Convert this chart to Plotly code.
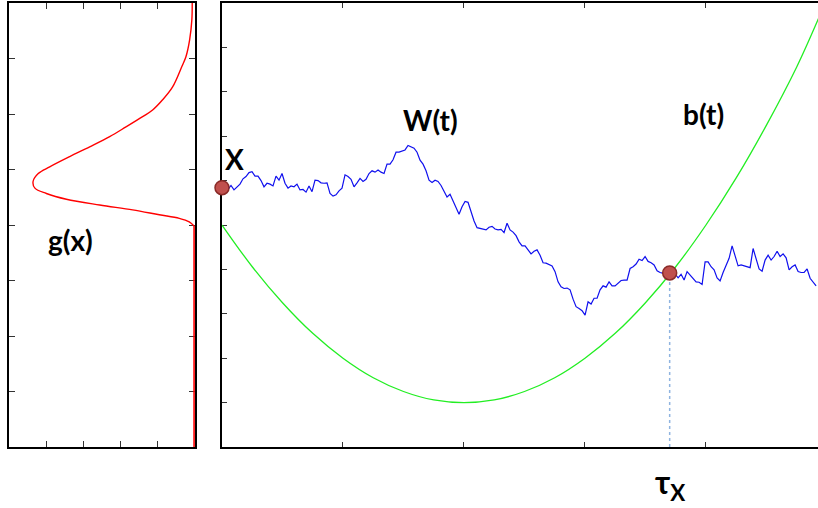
import plotly.graph_objects as go

# ---------------- data ----------------
# boundary b(t), read at t = 0 .. 4.93
b_t = [0, 0.25, 0.5, 0.75, 1.0, 1.25, 1.5, 1.75, 2.0, 2.25, 2.5, 2.75, 3.0,
       3.25, 3.5, 3.75, 4.0, 4.25, 4.5, 4.75, 4.93]
b_val = [5.0, 4.06, 3.25, 2.56, 2.0, 1.56, 1.25, 1.06, 1.0, 1.06, 1.25, 1.56, 2.0,
         2.56, 3.25, 4.06, 5.0, 6.06, 7.25, 8.56, 9.65]

# Brownian path W(t), sampled every W_STEP in t
W_STEP = 0.0248
W_val = [
    5.84, 5.85, 5.80, 5.89, 5.79, 5.86, 5.92, 6.04, 6.09, 6.18, 6.20, 6.10, 6.10,
    6.00, 5.86, 5.94, 5.92, 5.88, 6.10, 6.01, 6.16, 5.94, 5.83, 5.88, 5.86, 5.92,
    5.79, 5.80, 5.74, 5.88, 5.75, 6.01, 6.00, 5.95, 5.94, 5.95, 5.71, 5.65, 5.68,
    5.77, 5.83, 6.13, 6.09, 6.03, 5.86, 5.95, 6.05, 5.98, 6.03, 6.16, 6.22, 6.19,
    6.24,
    6.19, 6.16, 6.37, 6.37, 6.47, 6.64, 6.64, 6.67, 6.69, 6.79, 6.76, 6.73, 6.64,
    6.46, 6.37, 6.22, 6.01, 5.96, 6.01, 5.98, 5.89, 5.74, 5.63, 5.69, 5.54, 5.36,
    5.24, 5.41, 5.53, 5.51, 5.30, 5.09, 4.94, 4.92, 4.90, 4.89, 4.95, 4.97, 4.91,
    4.89, 4.90, 4.83, 5.04, 4.89, 4.84, 4.76, 4.62, 4.53,
    4.53, 4.44, 4.35, 4.41, 4.44, 4.32, 4.15, 4.14, 4.11, 4.08, 3.95, 3.72, 3.61,
    3.57, 3.58, 3.54, 3.33, 3.16, 3.12, 3.07, 2.97, 3.27, 3.22, 3.35, 3.35, 3.54,
    3.63, 3.60, 3.72, 3.63, 3.63, 3.70, 3.75, 3.76, 3.76, 4.02, 4.06, 4.12, 4.23,
    4.20, 4.29, 4.18, 4.15, 4.10, 3.97, 3.93, 3.91, 4.02, 4.05, 3.99, 3.90,
    3.81, 3.89, 3.76, 3.95, 3.87, 3.81, 3.72, 3.71, 3.66, 4.17, 4.17, 4.06, 3.99,
    3.81, 3.74, 3.93, 4.10, 4.25, 4.53, 4.29, 4.08, 4.10, 4.08, 4.07, 4.04, 4.47,
    4.25, 4.01, 3.96, 4.21, 4.32, 4.21, 4.29, 4.41, 4.29, 4.35, 4.26, 3.99, 4.06,
    4.10, 3.95, 3.93, 3.93, 4.01, 3.80, 3.71, 3.63,
]
W_t = [i * W_STEP for i in range(len(W_val))]

# density g(x) of the starting point (left panel, drawn sideways)
g_x = [10.0, 9.62, 9.17, 8.79, 8.57, 8.11, 7.82, 7.59, 7.44, 7.21, 6.99, 6.76,
       6.54, 6.31, 6.16, 5.98, 5.83, 5.71, 5.58, 5.45, 5.34, 5.23, 5.15, 5.07,
       4.98]
g_val = [0.05, 0.06, 0.12, 0.22, 0.33, 0.58, 0.85, 1.12, 1.39, 1.84, 2.28, 2.82,
         3.36, 3.90, 4.21, 4.35, 4.30, 3.99, 3.45, 2.55, 1.66, 0.94, 0.40, 0.13,
         0.0]
# zero part of the density (below the support)
g0_x = [4.98, 0.0]
g0_val = [0.0, 0.0]

X0 = 5.84          # starting value X
TAU = 3.70         # first hitting time tau_X
W_TAU = 3.92       # value at the hitting time

# ---------------- figure ----------------
W, H = 818, 508
fig = go.Figure()

fig.add_trace(go.Scatter(x=g_val, y=g_x, mode="lines", line_shape="spline",
                         line=dict(color="#ff0000", width=1.4),
                         xaxis="x", yaxis="y", hoverinfo="skip"))
fig.add_trace(go.Scatter(x=g0_val, y=g0_x, mode="lines",
                         line=dict(color="#ff0000", width=1.6),
                         xaxis="x", yaxis="y", hoverinfo="skip"))

fig.add_trace(go.Scatter(x=b_t, y=b_val, mode="lines", line_shape="spline",
                         line=dict(color="#22ee22", width=1.3),
                         xaxis="x2", yaxis="y2", hoverinfo="skip"))

fig.add_trace(go.Scatter(x=[TAU, TAU], y=[0, W_TAU], mode="lines",
                         line=dict(color="#8fb4e0", width=1.5, dash="dot"),
                         xaxis="x2", yaxis="y2", hoverinfo="skip"))

fig.add_trace(go.Scatter(x=W_t, y=W_val, mode="lines",
                         line=dict(color="#1010ee", width=1.2),
                         xaxis="x2", yaxis="y2", hoverinfo="skip"))

fig.add_trace(go.Scatter(x=[0, TAU], y=[X0, W_TAU], mode="markers",
                         marker=dict(size=14, color="#c0504d",
                                     line=dict(color="#8a2b28", width=1.5)),
                         cliponaxis=False,
                         xaxis="x2", yaxis="y2", hoverinfo="skip"))

axcommon = dict(showgrid=False, zeroline=False, showticklabels=False,
                showline=True, linecolor="#000000", linewidth=1.5,
                ticks="inside", tickcolor="#333333", tickwidth=1.2,
                layer="below traces")

fig.update_layout(
    width=W, height=H,
    margin=dict(l=0, r=0, t=0, b=0),
    paper_bgcolor="white", plot_bgcolor="white",
    showlegend=False,
    font=dict(family="Lato", color="#000000"),
    xaxis=dict(domain=[9 / W, 195 / W], range=[5, -0.025], tickvals=[1, 2, 3, 4],
               ticklen=6, mirror="ticks", anchor="y", **axcommon),
    yaxis=dict(domain=[61 / H, 505 / H], range=[0, 10], dtick=1.25, tick0=0,
               ticklen=6, mirror="ticks", anchor="x", **axcommon),
    xaxis2=dict(domain=[222 / W, 1.0], range=[0, 4.926], tickvals=[1, 2, 3, 4],
                ticklen=5, mirror="ticks", anchor="y2", **axcommon),
    yaxis2=dict(domain=[61 / H, 505 / H], range=[0, 10], tickvals=list(range(1, 10)),
                ticklen=5, anchor="x2", **axcommon),
)

lab = dict(size=28, family="Lato", color="#000000", weight="bold")
fig.add_annotation(x=3.34, y=4.66, xref="x", yref="y", text="g(x)",
                   showarrow=False, font=lab)
fig.add_annotation(x=0.107, y=6.49, xref="x2", yref="y2", text="X",
                   showarrow=False, font=lab)
fig.add_annotation(x=1.72, y=7.36, xref="x2", yref="y2", text="W(t)",
                   showarrow=False, font=lab)
fig.add_annotation(x=3.98, y=7.50, xref="x2", yref="y2", text="b(t)",
                   showarrow=False, font=lab)
fig.add_annotation(x=TAU, y=0, xref="x2", yref="paper",
                   xanchor="center", yanchor="bottom",
                   text="τ<sub>X</sub>", showarrow=False,
                   font=dict(size=32, family="Lato", color="#000000", weight="bold"))

fig.write_html(
    "out.html",
    config={"displayModeBar": False},
    post_script="document.body.style.margin='0';"
                "document.documentElement.style.overflow='hidden';",
)
